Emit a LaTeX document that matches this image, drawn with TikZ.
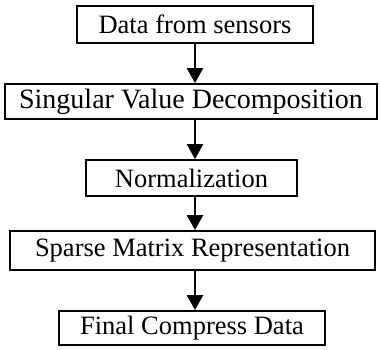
\documentclass[tikz,border=0pt]{standalone}
\usepackage{fontspec}
\setmainfont{Liberation Serif}
\usetikzlibrary{arrows.meta}
\begin{document}
\begin{tikzpicture}[x=1pt,y=-1pt,
  stage/.style={draw=black,line width=1.8pt,inner sep=0pt,anchor=center,
    font=\fontsize{26.5}{30}\selectfont},
  flow/.style={line width=2.4pt,-{Triangle[width=16pt,length=15pt]}}]
\useasboundingbox (0,0) rectangle (380,349);
\coordinate (axis) at (195,0);
% processing stages, top to bottom
\node[stage,minimum width=236pt,minimum height=37pt] (b1) at (195,24.5) {Data from sensors};
\node[stage,minimum width=372pt,minimum height=35pt,font=\fontsize{28}{32}\selectfont] (b2) at (191,101.5) {Singular Value Decomposition};
\node[stage,minimum width=211pt,minimum height=36pt] (b3) at (191.5,178) {Normalization};
\node[stage,minimum width=365pt,minimum height=39pt] (b4) at (192.5,250.5) {Sparse Matrix Representation};
\node[stage,minimum width=266pt,minimum height=34pt] (b5) at (192,328) {Final Compress Data};
% arrows between consecutive stages
\draw[flow] (b1.south -| axis) -- (b2.north -| axis);
\draw[flow] (b2.south -| axis) -- (b3.north -| axis);
\draw[flow] (b3.south -| axis) -- (b4.north -| axis);
\draw[flow] (b4.south -| axis) -- (b5.north -| axis);
\end{tikzpicture}
\end{document}
